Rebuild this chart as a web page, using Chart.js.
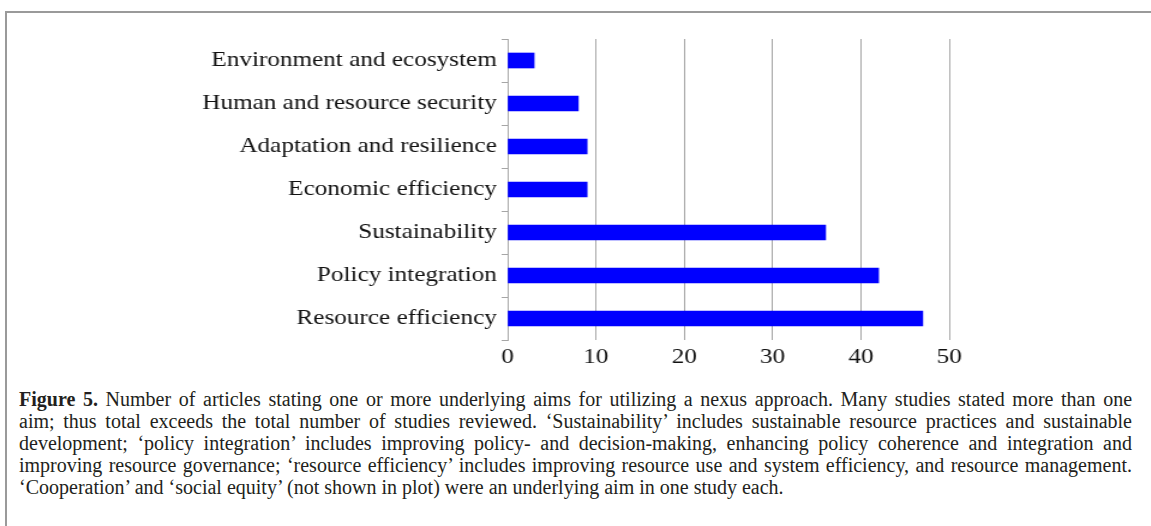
<!DOCTYPE html>
<html>
<head>
<meta charset="utf-8">
<script src="https://cdn.jsdelivr.net/npm/chart.js@4"></script>
<style>
  html, body { margin: 0; padding: 0; background: #fff; }
  body { width: 1151px; height: 526px; position: relative; overflow: hidden; }
  #frame { position: absolute; left: 5px; top: 11px; width: 1200px; height: 600px;
           border-left: 2px solid #9a9a9a; border-top: 2px solid #9a9a9a; }
  #wrap { position: absolute; left: 0; top: 0; width: 959px; height: 380px;
          transform: scaleX(1.2); transform-origin: 0 0; }
  #cap { position: absolute; left: 19px; top: 388px; width: 1113px;
         font-family: "Liberation Serif", "Times New Roman", serif; font-size: 20px;
         line-height: 22px; color: #231f20; }
  #cap div { text-align: justify; text-align-last: justify; white-space: normal; }
  #cap div.last { text-align-last: left; }
</style>
</head>
<body>
<div id="frame"></div>
<div id="wrap"><canvas id="c" width="959" height="380"></canvas></div>
<div id="cap">
  <div><b>Figure 5.</b> Number of articles stating one or more underlying aims for utilizing a nexus approach. Many studies stated more than one</div>
  <div>aim; thus total exceeds the total number of studies reviewed. ‘Sustainability’ includes sustainable resource practices and sustainable</div>
  <div>development; ‘policy integration’ includes improving policy- and decision-making, enhancing policy coherence and integration and</div>
  <div style="word-spacing:-1px">improving resource governance; ‘resource efficiency’ includes improving resource use and system efficiency, and resource management.</div>
  <div class="last">‘Cooperation’ and ‘social equity’ (not shown in plot) were an underlying aim in one study each.</div>
</div>
<script>
const categories = [
  "Environment and ecosystem",
  "Human and resource security",
  "Adaptation and resilience",
  "Economic efficiency",
  "Sustainability",
  "Policy integration",
  "Resource efficiency"
];
const articleCounts = [3, 8, 9, 9, 36, 42, 47];
const xTicks = [0, 10, 20, 30, 40, 50];

const labelFont = { family: 'Liberation Serif, Times New Roman, serif', size: 21 };

new Chart(document.getElementById('c'), {
  type: 'bar',
  data: {
    labels: categories,
    datasets: [{
      data: articleCounts,
      backgroundColor: '#0000ff',
      borderWidth: 0,
      barThickness: 15
    }]
  },
  options: {
    indexAxis: 'y',
    responsive: false,
    animation: false,
    devicePixelRatio: 1,
    layout: { padding: { left: 0, right: 168, top: 39, bottom: 0 } },
    plugins: { legend: { display: false }, tooltip: { enabled: false } },
    scales: {
      x: {
        min: 0, max: 50,
        afterBuildTicks: (s) => { s.ticks = xTicks.map(v => ({ value: v })); },
        afterFit: (s) => { s.height = 40; },
        grid: { color: '#a6a6a6', lineWidth: 1, drawTicks: false },
        border: { display: false },
        ticks: { padding: 5, color: '#111111', font: labelFont }
      },
      y: {
        afterFit: (s) => { s.width = 423; },
        grid: { drawOnChartArea: false, drawTicks: true, tickLength: 5, color: '#a6a6a6' },
        border: { display: true, color: '#a6a6a6' },
        ticks: { padding: 4, color: '#111111', font: labelFont }
      }
    }
  }
});
</script>
</body>
</html>
